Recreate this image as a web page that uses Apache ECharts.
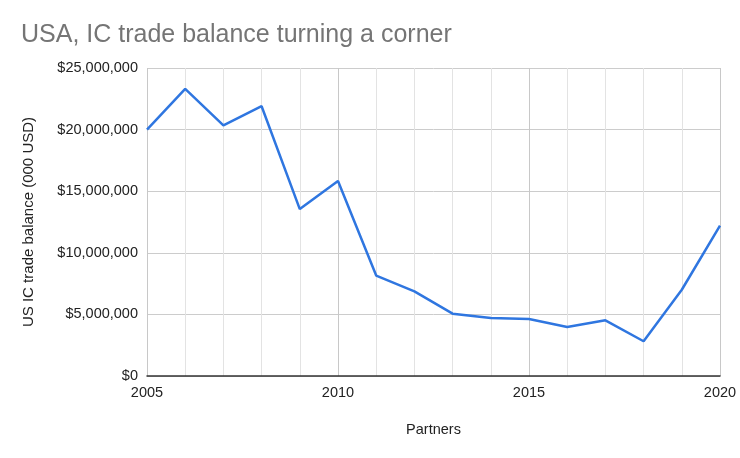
<!DOCTYPE html>
<html>
<head>
<meta charset="utf-8">
<script src="https://cdn.jsdelivr.net/npm/echarts@6/dist/echarts.min.js"></script>
<style>html,body{margin:0;padding:0;background:#fff}#c{width:740px;height:458px}</style>
</head>
<body>
<div id="c"></div>
<script>
const years = [2005,2006,2007,2008,2009,2010,2011,2012,2013,2014,2015,2016,2017,2018,2019,2020];
const balance = [20000000,23300000,20350000,21900000,13550000,15830000,8150000,6870000,5060000,4710000,4630000,3980000,4520000,2820000,7000000,12200000];
const titleText = 'USA, IC trade balance turning a corner';
const xName = 'Partners';
const yName = 'US IC trade balance (000 USD)';

const chart = echarts.init(document.getElementById('c'), null, {renderer:'canvas'});
const font = 'Liberation Sans, Arial, sans-serif';
chart.setOption({
  animation:false,
  textStyle:{fontFamily:font},
  title:{text:titleText,left:16,top:18,textStyle:{fontFamily:font,fontSize:25,fontWeight:'normal',color:'#757575'}},
  grid:{left:147,right:20,top:68,bottom:82},
  xAxis:{type:'value',min:2005,max:2020,interval:5,
    name:xName,nameLocation:'middle',nameGap:46,
    nameTextStyle:{fontFamily:font,fontSize:14.5,color:'#222'},
    axisLine:{show:true,lineStyle:{color:'#333',width:1.5}},
    axisTick:{show:false},
    axisLabel:{fontFamily:font,fontSize:14.5,color:'#222',margin:9,formatter:v=>String(v)},
    splitLine:{show:true,lineStyle:{color:'#c8c8c8',width:1}},
    minorTick:{show:false,splitNumber:5},
    minorSplitLine:{show:true,lineStyle:{color:'#e3e3e3',width:1}}
  },
  yAxis:{type:'value',min:0,max:25000000,interval:5000000,
    name:yName,nameLocation:'middle',nameGap:111,
    nameTextStyle:{fontFamily:font,fontSize:15,color:'#222'},
    axisLine:{show:false},axisTick:{show:false},
    axisLabel:{fontFamily:font,fontSize:14.5,color:'#222',margin:9,
      formatter:v=>'$'+v.toLocaleString('en-US')},
    splitLine:{show:true,lineStyle:{color:'#cccccc',width:1}}
  },
  series:[{type:'line',data:years.map((y,i)=>[y,balance[i]]),
    showSymbol:false,symbol:'none',
    lineStyle:{color:'#2f76e0',width:2.5},itemStyle:{color:'#2f76e0'}}]
});
</script>
</body>
</html>
